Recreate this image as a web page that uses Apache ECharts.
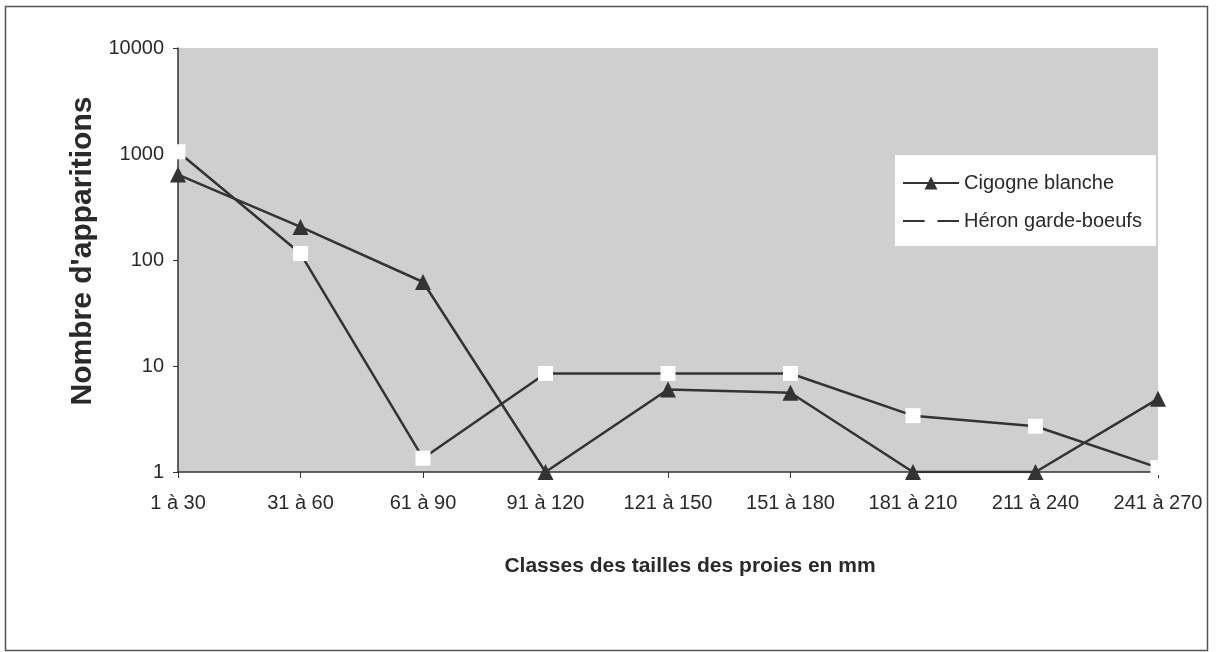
<!DOCTYPE html>
<html>
<head>
<meta charset="utf-8">
<script src="https://cdn.jsdelivr.net/npm/echarts@6/dist/echarts.min.js"></script>
<style>
html,body{margin:0;padding:0;background:#fff;}
#c{width:1221px;height:652px;}
</style>
</head>
<body>
<div id="c"></div>
<script>
const categories = ['1 à 30','31 à 60','61 à 90','91 à 120','121 à 150','151 à 180','181 à 210','211 à 240','241 à 270'];
const cigogne = [640, 205, 62, 1, 6, 5.6, 1, 1, 4.9];
const heron = [1050, 115, 1.35, 8.5, 8.5, 8.5, 3.4, 2.7, 1.1];
const yTicks = [1, 10, 100, 1000, 10000];

const FONT = "'Liberation Sans', Arial, sans-serif";
const ink = '#333333';
const txt = '#2a2a2a';

const chart = echarts.init(document.getElementById('c'), null, {renderer:'canvas'});
chart.setOption({
  animation: false,
  backgroundColor: '#ffffff',
  graphic: [{
    type: 'rect',
    shape: {x: 5.5, y: 6.5, width: 1202, height: 644},
    style: {fill: 'none', stroke: '#555', lineWidth: 1.5},
    silent: true, z: -1
  }],
  grid: {
    left: 178, right: 63, top: 48, bottom: 180,
    show: true, backgroundColor: '#cfcfcf', borderWidth: 0
  },
  legend: {
    orient: 'vertical',
    left: 895, top: 155,
    backgroundColor: '#ffffff',
    padding: [18, 14, 15, 7],
    itemGap: 18,
    itemWidth: 56, itemHeight: 16,
    textStyle: {fontFamily: FONT, fontSize: 20, color: txt},
    data: ['Cigogne blanche', 'Héron garde-boeufs']
  },
  xAxis: {
    type: 'category',
    data: categories,
    boundaryGap: false,
    name: 'Classes des tailles des proies en mm',
    nameLocation: 'middle',
    nameGap: 84,
    nameTextStyle: {fontFamily: FONT, fontSize: 21, fontWeight: 'bold', color: txt, padding: [0,0,0,44]},
    axisLine: {lineStyle: {color: '#333', width: 1.5}},
    axisTick: {show: true, length: 6, alignWithLabel: true, lineStyle: {color: '#333'}},
    axisLabel: {fontFamily: FONT, fontSize: 20, color: txt, margin: 21, interval: 0}
  },
  yAxis: {
    type: 'log',
    logBase: 10,
    min: yTicks[0], max: yTicks[yTicks.length-1],
    name: "Nombre d'apparitions",
    nameLocation: 'middle',
    nameGap: 67,
    nameRotate: 90,
    nameTextStyle: {fontFamily: FONT, fontSize: 30, fontWeight: 'bold', color: txt, padding: [0,0,0,18]},
    axisLine: {show: true, lineStyle: {color: '#333', width: 1.5}},
    axisTick: {show: true, length: 5, lineStyle: {color: '#333'}},
    splitLine: {show: false},
    axisLabel: {fontFamily: FONT, fontSize: 20, color: txt, margin: 14, formatter: v => String(v)}
  },
  series: [
    {
      name: 'Cigogne blanche',
      type: 'line',
      data: cigogne,
      symbol: 'triangle',
      symbolSize: 16,
      itemStyle: {color: ink},
      lineStyle: {color: ink, width: 2.5},
      z: 3
    },
    {
      name: 'Héron garde-boeufs',
      type: 'line',
      data: heron,
      symbol: 'rect',
      symbolSize: 15,
      itemStyle: {color: '#ffffff', borderWidth: 0},
      lineStyle: {color: ink, width: 2.5},
      z: 4
    }
  ]
});
</script>
</body>
</html>
